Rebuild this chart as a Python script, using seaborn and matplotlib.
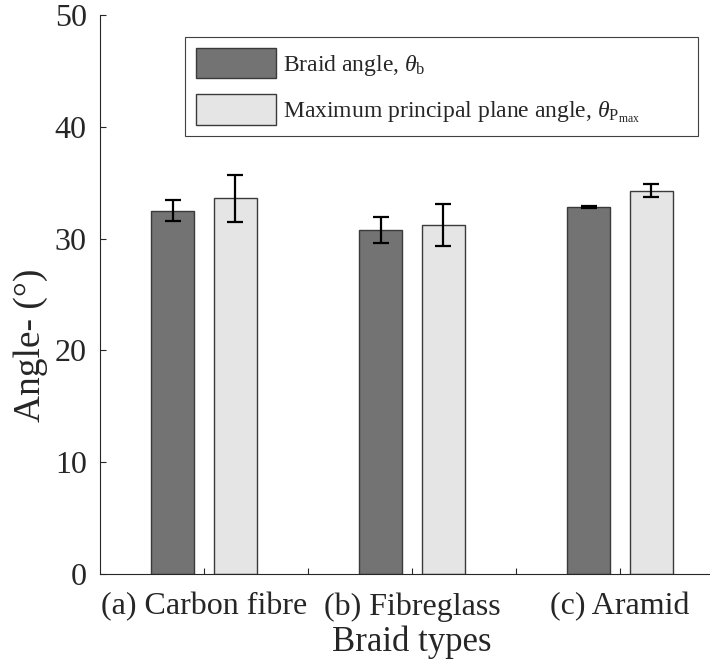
import matplotlib
matplotlib.use("Agg")
import matplotlib.pyplot as plt
import seaborn as sns
import pandas as pd

# Measured braid angles and principal plane angles (degrees), with std. deviations
braid_types = ["(a) Carbon fibre", "(b) Fibreglass", "(c) Aramid"]
braid_angle = [32.5, 30.8, 32.8]
braid_angle_err = [0.93, 1.15, 0.08]
plane_angle = [33.6, 31.2, 34.3]
plane_angle_err = [2.1, 1.9, 0.58]
series_labels = [r"Braid angle, $\theta_{\mathrm{b}}$",
                 r"Maximum principal plane angle, $\theta_{\mathrm{P}_{\mathrm{max}}}$"]
y_ticks = [0, 10, 20, 30, 40, 50]

sns.set_style("white")
plt.rcParams["font.family"] = ["Liberation Serif", "DejaVu Serif"]
plt.rcParams["mathtext.fontset"] = "custom"
plt.rcParams["mathtext.rm"] = "Liberation Serif"
plt.rcParams["mathtext.it"] = "Liberation Serif:italic"
plt.rcParams["mathtext.bf"] = "Liberation Serif:bold"

text_color = "#262626"
axis_color = "#262626"
fill_colors = ["#737373", "#e5e5e5"]
edge_color = "#3a3a3a"

df = pd.DataFrame({
    "type": braid_types * 2,
    "series": ["braid"] * 3 + ["plane"] * 3,
    "angle": braid_angle + plane_angle,
})

W, H = 710, 667
fig = plt.figure(figsize=(W / 100, H / 100), dpi=100)
# axes: 0.5 unit padding either side of the groups, right edge runs past the canvas
ax = fig.add_axes([100 / W, (H - 574) / H, 624 / W, (574 - 15) / H])

sns.barplot(data=df, x="type", y="angle", hue="series", order=braid_types,
            hue_order=["braid", "plane"], palette=fill_colors,
            width=0.6, gap=0.31, errorbar=None, legend=False,
            edgecolor=edge_color, linewidth=1.0, saturation=1, ax=ax)

errs = [braid_angle_err, plane_angle_err]
for container, err in zip(ax.containers, errs):
    xs = [p.get_x() + p.get_width() / 2 for p in container.patches]
    ys = [p.get_height() for p in container.patches]
    ax.errorbar(xs, ys, yerr=err, fmt="none", ecolor="black",
                elinewidth=1.6, capsize=5.5, capthick=1.6, zorder=5)

ax.set_xlim(-0.5, 2.5)
ax.set_ylim(0, 50)
ax.set_yticks(y_ticks)
ax.set_yticklabels([str(t) for t in y_ticks])
ax.set_xticks([0, 0.5, 1, 1.5, 2])
ax.set_xticklabels([braid_types[0], "", braid_types[1], "", braid_types[2]])

ax.tick_params(axis="both", direction="in", length=4, width=0.8,
               bottom=True, left=True, top=False, right=False,
               colors=axis_color, labelcolor=text_color, labelsize=23)
ax.tick_params(axis="x", pad=13)
ax.tick_params(axis="y", pad=9.5)

for side in ["top", "right"]:
    ax.spines[side].set_visible(False)
for side in ["left", "bottom"]:
    ax.spines[side].set_color(axis_color)
    ax.spines[side].set_linewidth(0.8)

ax.set_xlabel("Braid types", fontsize=25, color=text_color, labelpad=3)
ax.set_ylabel("Angle- (°)", fontsize=27, color=text_color)
ax.yaxis.set_label_coords((48 - 100) / 624, (574 - 345) / 559)

leg = fig.legend(ax.containers, series_labels, loc="upper left",
                 bbox_to_anchor=(185 / W, (H - 37) / H, (698 - 185) / W, 0),
                 mode="expand", borderaxespad=0, fontsize=17,
                 handlelength=3.4, handleheight=1.6, handletextpad=0.3,
                 labelspacing=0.7, borderpad=0.45, fancybox=False,
                 framealpha=1, edgecolor="#404040")
leg.get_frame().set_linewidth(0.8)
for t in leg.get_texts():
    t.set_color(text_color)

fig.savefig("out.png", dpi=100)
